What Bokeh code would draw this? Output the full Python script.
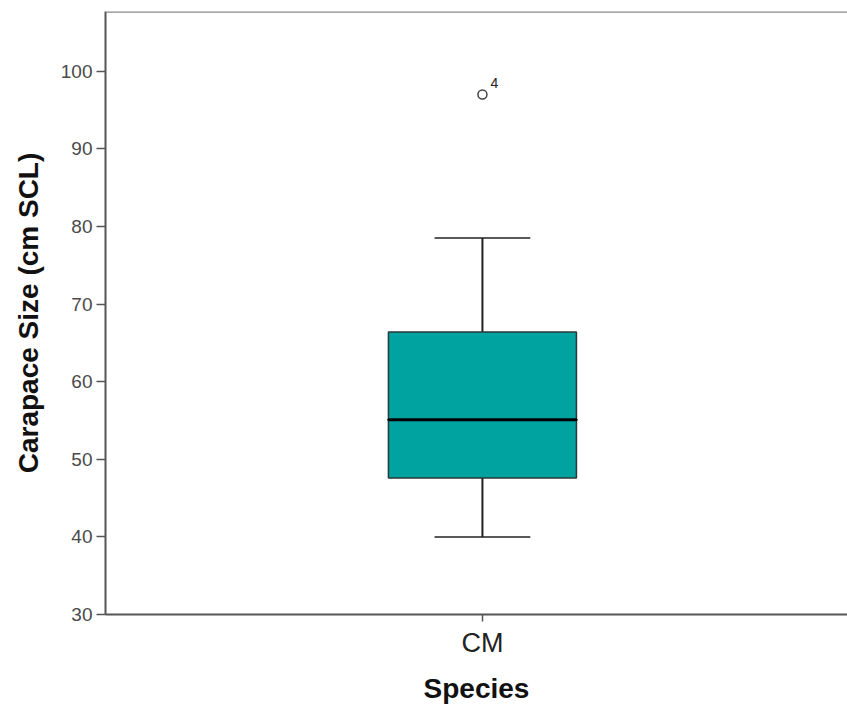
from bokeh.plotting import figure
from bokeh.models import Range1d, FixedTicker, Span
from bokeh.core.properties import value
from bokeh.embed import file_html
from bokeh.resources import INLINE

# ---- data ----
categories = ["CM"]
q1 = [47.6]
median = [55.1]
q3 = [66.4]
lower = [40.0]
upper = [78.5]
outlier_group = [0]
outlier_vals = [97.0]
outlier_labels = ["4"]
y_ticks = [30, 40, 50, 60, 70, 80, 90, 100]

xpos = list(range(len(categories)))

FONT = "Liberation Sans"
AXIS_COL = "#555555"

p = figure(
    x_range=Range1d(-0.508, 0.492),
    y_range=Range1d(30, 107.7),
    width=847, height=698,
    frame_width=742, frame_height=603,
    min_border_left=105, min_border_top=11, min_border_right=0,
    output_backend="svg", toolbar_location=None,
    background_fill_color="white", border_fill_color="white",
)
p.outline_line_color = None
p.grid.visible = False

# top border
p.add_layout(Span(location=107.7, dimension="width", line_color="#888888", line_width=2.5))

BOX_W = 0.2534
CAP_W = 0.128

# whiskers
p.segment(x0=xpos, y0=lower, x1=xpos, y1=q1, line_color="#222222", line_width=2)
p.segment(x0=xpos, y0=q3, x1=xpos, y1=upper, line_color="#222222", line_width=2)
# caps
p.rect(x=xpos, y=lower, width=CAP_W, height=0.001, fill_color=None, line_color="#222222", line_width=1.5)
p.rect(x=xpos, y=upper, width=CAP_W, height=0.001, fill_color=None, line_color="#222222", line_width=1.5)
# box
p.vbar(x=xpos, bottom=q1, top=q3, width=BOX_W, fill_color="#00A3A0",
       line_color="#2a3a3a", line_width=1.5)
# median
p.rect(x=xpos, y=median, width=BOX_W, height=0.001, fill_color=None, line_color="black", line_width=3)

# outlier
p.scatter(x=outlier_group, y=outlier_vals, size=9, marker="circle", fill_color="white",
          line_color="#444444", line_width=1.5)
p.text(x=outlier_group, y=outlier_vals, text=outlier_labels, x_offset=8, y_offset=-7,
       text_font=value(FONT), text_font_size="14px", text_color="#222222",
       text_baseline="bottom", text_align="left")

# axes
p.yaxis.ticker = FixedTicker(ticks=y_ticks)
p.xaxis.ticker = FixedTicker(ticks=xpos)
p.xaxis.major_label_overrides = {i: c for i, c in zip(xpos, categories)}
for ax in (p.xaxis[0], p.yaxis[0]):
    ax.axis_line_color = AXIS_COL
    ax.axis_line_width = 2
    ax.major_tick_line_color = AXIS_COL
    ax.major_tick_line_width = 1.5
    ax.major_tick_in = 0
    ax.minor_tick_line_color = None
    ax.axis_label_text_font = FONT
    ax.axis_label_text_font_style = "bold"
    ax.axis_label_text_font_size = "28px"
    ax.axis_label_text_color = "#111111"
    ax.major_label_text_font = FONT

p.yaxis.major_tick_out = 9
p.yaxis.major_label_standoff = 4
p.yaxis.major_label_text_font_size = "19px"
p.yaxis.major_label_text_color = "#4a4a4a"
p.yaxis.axis_label = "Carapace Size (cm SCL)"
p.yaxis.axis_label_standoff = 14

p.xaxis.major_tick_out = 7
p.xaxis.major_label_standoff = 6
p.xaxis.major_label_text_font_size = "27px"
p.xaxis.major_label_text_color = "#222222"
p.xaxis.axis_label = "Species"
p.xaxis.axis_label_standoff = 12

open("out.html", "w").write(file_html(p, INLINE))
